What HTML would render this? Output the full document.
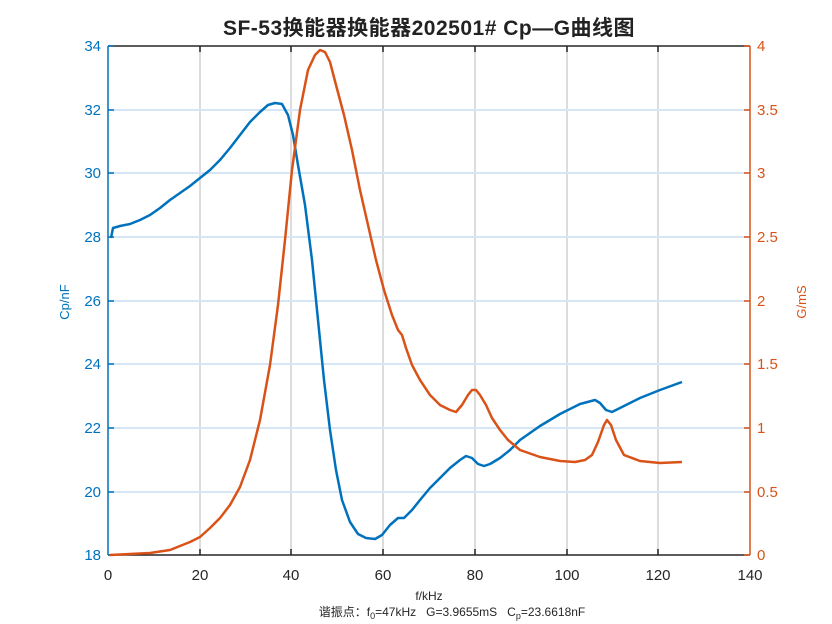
<!DOCTYPE html>
<html><head><meta charset="utf-8"><style>
html,body{margin:0;padding:0;background:#fff;}
svg{display:block;font-family:"Liberation Sans","Noto Sans CJK SC",sans-serif;}
.pre{white-space:pre;}
</style></head><body>
<svg width="832" height="624" viewBox="0 0 832 624" xmlns="http://www.w3.org/2000/svg">
<rect width="832" height="624" fill="#fff"/>
<text x="429" y="35" text-anchor="middle" font-size="21" font-weight="bold" fill="#222" letter-spacing="0.5">SF-53换能器换能器202501# Cp—G曲线图</text>
<!-- grid -->
<g stroke="#dcdcdc" stroke-width="2">
<line x1="200" y1="46" x2="200" y2="555"/><line x1="291" y1="46" x2="291" y2="555"/><line x1="383" y1="46" x2="383" y2="555"/><line x1="475" y1="46" x2="475" y2="555"/><line x1="567" y1="46" x2="567" y2="555"/><line x1="658" y1="46" x2="658" y2="555"/>
</g>
<g stroke="#d6e6f4" stroke-width="2">
<line x1="108" y1="110" x2="750" y2="110"/><line x1="108" y1="173" x2="750" y2="173"/><line x1="108" y1="237" x2="750" y2="237"/><line x1="108" y1="301" x2="750" y2="301"/><line x1="108" y1="364" x2="750" y2="364"/><line x1="108" y1="428" x2="750" y2="428"/><line x1="108" y1="492" x2="750" y2="492"/>
</g>
<!-- axes -->
<line x1="108" y1="46" x2="750" y2="46" stroke="#262626" stroke-width="1.5"/>
<line x1="108" y1="555" x2="750" y2="555" stroke="#262626" stroke-width="1.5"/>
<line x1="108" y1="46" x2="108" y2="555" stroke="#0072bd" stroke-width="1.5"/>
<line x1="750" y1="46" x2="750" y2="555" stroke="#d95319" stroke-width="1.5"/>
<g stroke="#262626" stroke-width="1.5">
<path d="M200 555v-6M291 555v-6M383 555v-6M475 555v-6M567 555v-6M658 555v-6M200 46v6M291 46v6M383 46v6M475 46v6M567 46v6M658 46v6"/>
</g>
<g stroke="#0072bd" stroke-width="1.5"><path d="M108 46h6M108 110h6M108 173h6M108 237h6M108 301h6M108 364h6M108 428h6M108 492h6M108 555h6"/></g>
<g stroke="#d95319" stroke-width="1.5"><path d="M750 46h-6M750 110h-6M750 173h-6M750 237h-6M750 301h-6M750 364h-6M750 428h-6M750 492h-6M750 555h-6"/></g>
<g font-size="15" fill="#262626" text-anchor="middle">
<text x="108" y="580">0</text><text x="200" y="580">20</text><text x="291" y="580">40</text><text x="383" y="580">60</text><text x="475" y="580">80</text><text x="567" y="580">100</text><text x="658" y="580">120</text><text x="750" y="580">140</text>
</g>
<g font-size="15" fill="#0072bd" text-anchor="end">
<text x="101" y="51">34</text><text x="101" y="115">32</text><text x="101" y="178">30</text><text x="101" y="242">28</text><text x="101" y="306">26</text><text x="101" y="369">24</text><text x="101" y="433">22</text><text x="101" y="497">20</text><text x="101" y="560">18</text>
</g>
<g font-size="15" fill="#d95319" text-anchor="start">
<text x="757" y="51">4</text><text x="757" y="115">3.5</text><text x="757" y="178">3</text><text x="757" y="242">2.5</text><text x="757" y="306">2</text><text x="757" y="369">1.5</text><text x="757" y="433">1</text><text x="757" y="497">0.5</text><text x="757" y="560">0</text>
</g>
<text transform="translate(69,302) rotate(-90)" text-anchor="middle" font-size="13" fill="#0072bd">Cp/nF</text>
<text transform="translate(806,302) rotate(-90)" text-anchor="middle" font-size="13" fill="#d95319">G/mS</text>
<text x="429" y="600" text-anchor="middle" font-size="12" fill="#262626">f/kHz</text>
<text class="pre" x="452" y="616" text-anchor="middle" font-size="12" fill="#262626">谐振点：f<tspan font-size="9" dy="3">0</tspan><tspan dy="-3">=47kHz   G=3.9655mS   C</tspan><tspan font-size="9" dy="3">p</tspan><tspan dy="-3">=23.6618nF</tspan></text>
<polyline fill="none" stroke="#0072bd" stroke-width="2.5" stroke-linejoin="round" points="111,238 113,228 120,226 130,224 140,220 150,215 160,208 170,200 180,193 190,186 200,178 210,170 220,160 230,148 240,135 250,122 260,112 268,105 275,103 282,104 288,115 293,135 298,165 305,205 312,260 318,320 324,380 330,430 336,470 342,500 350,522 358,534 366,538 375,539 382,535 390,525 398,518 404,518 412,510 420,500 430,488 440,478 450,468 460,460 466,456 472,458 478,464 484,466 490,464 500,458 510,450 520,440 540,426 560,414 580,404 595,400 600,403 606,410 612,412 620,408 640,398 660,390 682,382"/>
<polyline fill="none" stroke="#d95319" stroke-width="2.5" stroke-linejoin="round" points="110,555 130,554 150,553 170,550 180,546 190,542 200,537 210,528 220,518 230,505 240,487 250,460 260,420 270,365 278,305 285,240 292,170 300,110 308,70 315,55 320,50 325,52 330,62 336,85 344,115 352,150 360,190 368,225 376,260 384,290 392,315 398,330 402,335 406,348 412,365 420,380 430,395 440,405 450,410 456,412 462,405 468,395 472,390 476,390 480,395 486,405 492,418 500,430 508,440 520,450 540,457 560,461 575,462 585,460 592,455 598,442 604,425 607,420 611,425 616,440 624,455 640,461 660,463 682,462"/>
</svg>
</body></html>
